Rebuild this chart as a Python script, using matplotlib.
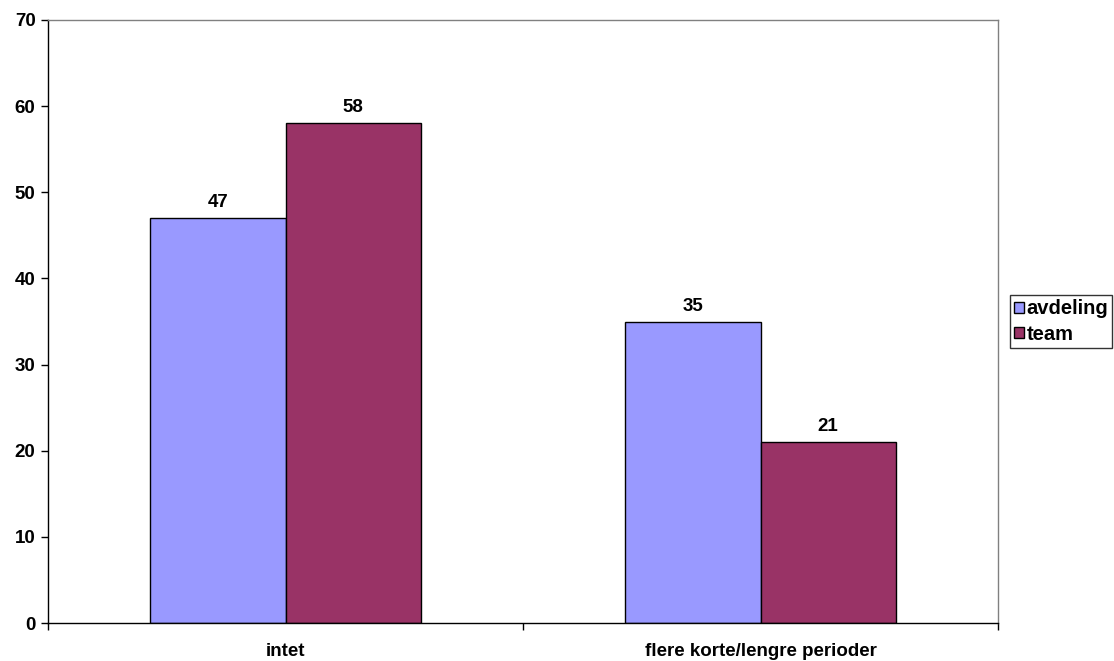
import matplotlib
matplotlib.use("Agg")
import matplotlib.pyplot as plt
import numpy as np

plt.rcParams["font.family"] = ["Liberation Sans", "DejaVu Sans"]
plt.rcParams["font.weight"] = "bold"

# --- data ---
categories = ["intet", "flere korte/lengre perioder"]
series_names = ["avdeling", "team"]
avdeling = [47, 35]
team = [58, 21]

COLORS = ["#9999ff", "#993366"]
FS = 13.5

fig = plt.figure(figsize=(11.14, 6.61), dpi=100)
ax = fig.add_axes([48 / 1114, 38 / 661, 950 / 1114, 603 / 661])

x = np.arange(len(categories))
w = 0.285
for i, (vals, name) in enumerate(zip([avdeling, team], series_names)):
    xs = x + (i - 0.5) * w
    ax.bar(xs, vals, width=w, color=COLORS[i], edgecolor="black",
           linewidth=1.0, label=name, zorder=2)
    for xi, v in zip(xs, vals):
        ax.annotate(f"{v}", (xi, v), xytext=(0, 5), textcoords="offset points",
                    ha="center", va="bottom", fontsize=FS, fontweight="bold")

ax.set_xlim(-0.5, len(categories) - 0.5)
ax.set_ylim(0, 70)
ax.set_yticks(np.arange(0, 71, 10))
ax.set_xticks(x)
ax.set_xticklabels(categories)
ax.set_xticks(np.arange(-0.5, len(categories), 1.0), minor=True)
ax.tick_params(axis="x", which="major", length=0, pad=14.5, labelsize=FS)
ax.tick_params(axis="x", which="minor", length=5, width=1, direction="out")
ax.tick_params(axis="y", length=5, width=1, direction="out", pad=4, labelsize=FS)

for s in ("left", "bottom"):
    ax.spines[s].set_color("black")
    ax.spines[s].set_linewidth(1.0)
for s in ("top", "right"):
    ax.spines[s].set_color("#808080")
    ax.spines[s].set_linewidth(1.0)

leg = ax.legend(loc="center left", bbox_to_anchor=((1010 - 48) / 950, 0.5),
                frameon=True, fancybox=False, edgecolor="black", fontsize=14.5,
                handlelength=0.5, handleheight=0.5, handletextpad=0.12,
                borderpad=0.2, labelspacing=0.3, borderaxespad=0)
leg.get_frame().set_linewidth(1.0)

fig.savefig("out.png", dpi=100, facecolor="white")
